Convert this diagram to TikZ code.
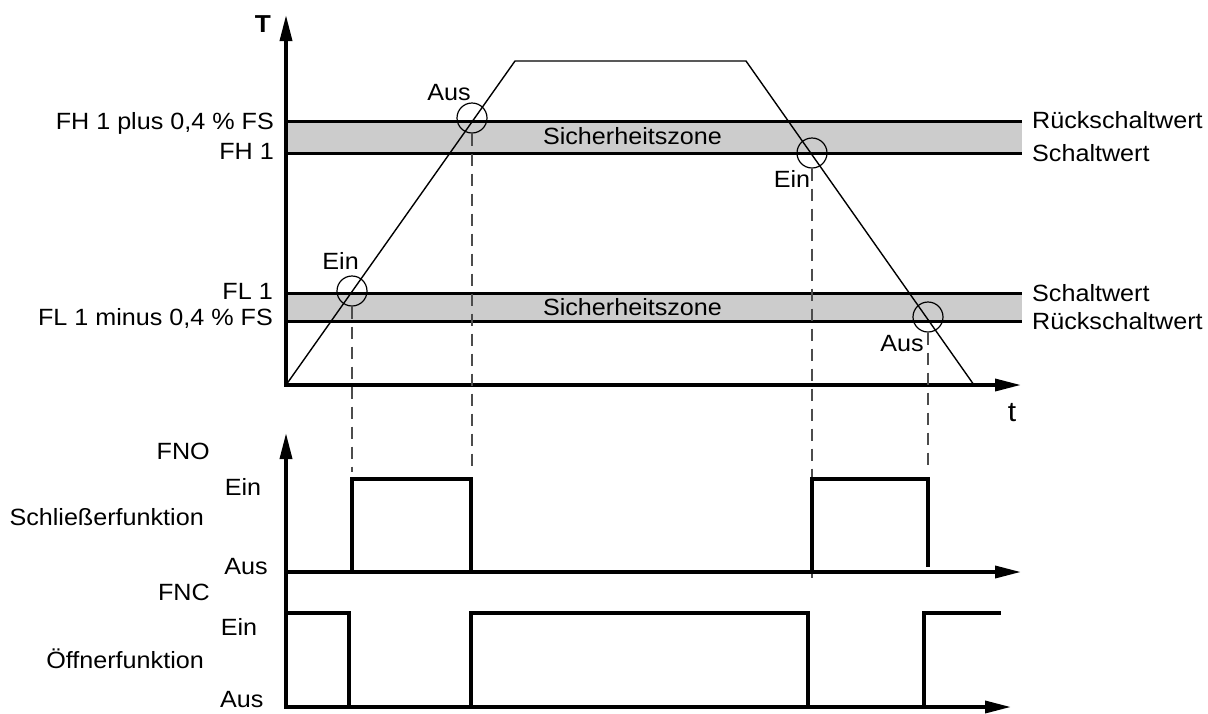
\documentclass[tikz,border=0pt]{standalone}
\usepackage{fontspec}
\setmainfont{Liberation Sans}[FakeStretch=1.07]
\usetikzlibrary{arrows.meta}
\begin{document}
\begin{tikzpicture}[x=1pt,y=-1pt,
  lbl/.style={inner sep=0pt, text height=16.8pt, text depth=0pt, font=\fontsize{23.5}{28}\selectfont},
  axis/.style={line width=3.5pt, -{Triangle[length=26pt,width=12pt]}},
  sig/.style={line width=3.6pt, line join=miter},
  bandline/.style={line width=3pt},
  bandfill/.style={fill=black!20},
  ramp/.style={line width=1.4pt, line join=miter},
  ring/.style={circle, draw, line width=1.2pt, minimum size=30pt, inner sep=0pt},
  guide/.style={line width=1.2pt, draw=black!70, dash pattern=on 12pt off 8pt}]
\useasboundingbox (0,0) rectangle (1208,713);

% ---- upper diagram ----
\coordinate (O) at (286,385);
\coordinate (Ttip) at (286,15);
\coordinate (ttip) at (1021,385);
\coordinate (P1) at (515,61);
\coordinate (P2) at (746,61);
\coordinate (P3) at (974,385);

\fill[bandfill] (286,121) rectangle (1022,153);
\fill[bandfill] (286,293) rectangle (1022,321);

\draw[ramp] (O) -- (P1) -- (P2) -- (P3);

\draw[bandline] (286,121) -- (1022,121);
\draw[bandline] (286,153) -- (1022,153);
\draw[bandline] (286,293) -- (1022,293);
\draw[bandline] (286,321) -- (1022,321);

\draw[axis] (286,386.75) -- (Ttip);
\draw[axis] (284.25,385) -- (ttip);

\node[font=\fontsize{24.5}{28}\selectfont\bfseries, inner sep=0pt, text height=17.5pt, text depth=0pt] (Tlab) at (263,24) {T};
\node[font=\fontsize{28}{32}\selectfont, inner sep=0pt, anchor=base] (tlab) at (1012,421.5) {t};

\node[ring] (c1) at (352,291) {};
\node[ring] (c2) at (472,118) {};
\node[ring] (c3) at (812,153) {};
\node[ring] (c4) at (928,317) {};

\node[lbl, anchor=east] (lh2) at (274,121) {FH 1 plus 0,4 \% FS};
\node[lbl, anchor=east] (lh1) at (274,151.5) {FH 1};
\node[lbl, anchor=east] (ll1) at (273,290.7) {FL 1};
\node[lbl, anchor=east] (ll2) at (273,316.7) {FL 1 minus 0,4 \% FS};

\node[lbl, anchor=west] (rh2) at (1032,120) {Rückschaltwert};
\node[lbl, anchor=west] (rh1) at (1032,153.3) {Schaltwert};
\node[lbl, anchor=west] (rl1) at (1032,293.3) {Schaltwert};
\node[lbl, anchor=west] (rl2) at (1032,321.5) {Rückschaltwert};

\node[lbl] (z1) at (632.5,136) {Sicherheitszone};
\node[lbl] (z2) at (632.5,306.7) {Sicherheitszone};

\node[lbl] (aus1) at (449,91.7) {Aus};
\node[lbl] (ein1) at (340.6,261.3) {Ein};
\node[lbl] (ein2) at (792,179) {Ein};
\node[lbl] (aus2) at (902,343) {Aus};

% ---- guides ----
\coordinate (g1) at (352,472);
\coordinate (g2) at (472,466);
\coordinate (g3) at (812,578);
\coordinate (g4) at (928,472);
\draw[guide] (c1.south) -- (g1);
\draw[guide] (c2.south) -- (g2);
\draw[guide] (c3.south) -- (g3);
\draw[guide] (c4.south) -- (g4);

% ---- lower diagrams ----
\coordinate (NOtop) at (286,433);
\coordinate (NOend) at (1021,572);
\coordinate (NCend) at (1011,707);
\draw[axis] (286,708.75) -- (NOtop);
\draw[axis] (284.25,572) -- (NOend);
\draw[axis] (284.25,707) -- (NCend);

\draw[sig] (352,570.5) -- (352,479) -- (471,479) -- (471,570.5);
\draw[sig] (812,570.5) -- (812,479) -- (928,479) -- (928,567);

\draw[sig] (286,613) -- (349,613) -- (349,707) -- (471,707) -- (471,613) -- (808,613) -- (808,707) -- (924,707) -- (924,613) -- (1001,613);

\node[lbl, anchor=east] (fno) at (210,451) {FNO};
\node[lbl] (noein) at (243,487.5) {Ein};
\node[lbl, anchor=east] (nofun) at (204,517.5) {Schließerfunktion};
\node[lbl] (noaus) at (246,566.5) {Aus};

\node[lbl, anchor=east] (fnc) at (210,592) {FNC};
\node[lbl] (ncein) at (239,627) {Ein};
\node[lbl, anchor=east] (ncfun) at (204,659.6) {Öffnerfunktion};
\node[lbl] (ncaus) at (241.7,699.5) {Aus};
\end{tikzpicture}
\end{document}
